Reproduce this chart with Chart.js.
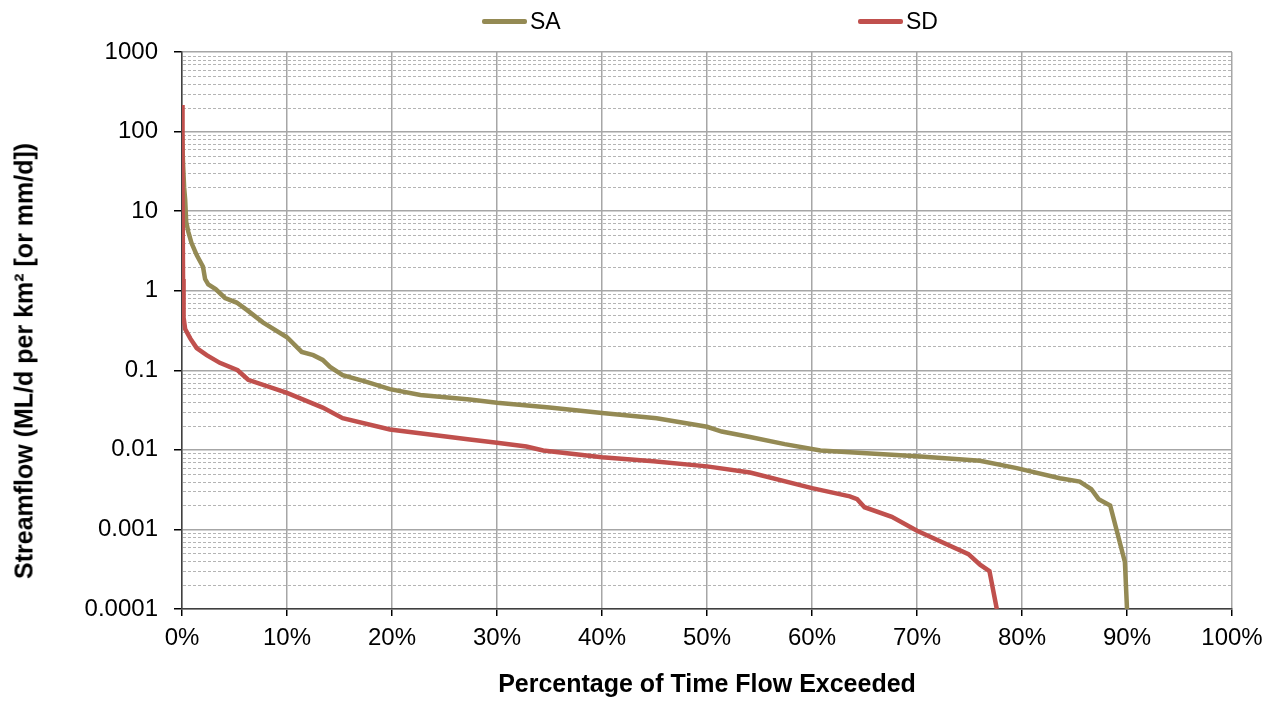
<!DOCTYPE html>
<html>
<head>
<meta charset="utf-8">
<script src="https://cdn.jsdelivr.net/npm/chart.js@4.4.1/dist/chart.umd.min.js"></script>
<style>
  body { margin: 0; background: #fff; font-family: "Liberation Sans", Arial, sans-serif; }
  #wrap { position: relative; width: 1274px; height: 702px; }
  .leg { position: absolute; top: 8px; display: flex; align-items: center; font-size: 23px; color: #000; }
  .leg span.sw { display: inline-block; width: 45px; height: 5px; border-radius: 2px; margin-right: 3px; }
  #ytitle { position: absolute; left: 24px; top: 361px; transform: translate(-50%, -50%) rotate(-90deg);
            white-space: nowrap; font-size: 25px; font-weight: bold; color: #000; }
</style>
</head>
<body>
<div id="wrap">
  <canvas id="fdc"></canvas>
  <div class="leg" style="left:482px"><span class="sw" style="background:#948A54"></span>SA</div>
  <div class="leg" style="left:858px"><span class="sw" style="background:#C0504D"></span>SD</div>
  <div id="ytitle">Streamflow (ML/d per km² [or mm/d])</div>
</div>
<script>
// percentage of time exceeded, streamflow
const saPct  = [0, 0.1, 0.2, 0.3, 0.4, 0.6, 0.9, 1.4, 2.0, 2.2, 2.5, 3.2, 4.1, 5.2, 6.2, 7.7, 10, 11.4, 12.5, 13.4, 14.1, 15.3, 17.5, 19.8, 22.7, 27.4, 30, 35, 40, 45.2, 50, 51.4, 54.1, 57.4, 60.8, 70, 76, 79.5, 83.6, 85.5, 86.6, 87.3, 88.4, 89.8, 90];
const saFlow = [90, 40, 20, 14, 7.3, 5.5, 4, 2.8, 2.0, 1.4, 1.2, 1.05, 0.81, 0.71, 0.57, 0.40, 0.26, 0.17, 0.155, 0.135, 0.11, 0.087, 0.072, 0.058, 0.049, 0.043, 0.039, 0.034, 0.029, 0.025, 0.0195, 0.017, 0.0145, 0.0118, 0.0098, 0.0083, 0.0073, 0.0059, 0.0044, 0.0040, 0.0032, 0.0024, 0.0020, 0.00039, 0.0001];

const sdPct  = [0, 0.05, 0.1, 0.15, 0.3, 0.8, 1.4, 2.35, 3.6, 5.3, 6.3, 10, 13.4, 15.3, 19.8, 27.4, 30, 32.8, 34.4, 40, 44.9, 50, 54.1, 60, 63.6, 64.3, 65, 67.6, 70, 74.9, 76, 76.9, 77.6];
const sdFlow = [215, 20, 1.4, 0.46, 0.33, 0.25, 0.19, 0.155, 0.124, 0.1, 0.076, 0.052, 0.034, 0.025, 0.018, 0.0135, 0.0123, 0.011, 0.0098, 0.0081, 0.0072, 0.0062, 0.0052, 0.0033, 0.0026, 0.0024, 0.0019, 0.00144, 0.00096, 0.00049, 0.00036, 0.0003, 0.0001];

const yTicks = [0.0001, 0.001, 0.01, 0.1, 1, 10, 100, 1000];
const yTickLabels = ['0.0001', '0.001', '0.01', '0.1', '1', '10', '100', '1000'];
const xTicks = [0, 10, 20, 30, 40, 50, 60, 70, 80, 90, 100];

const toPoints = (xs, ys) => xs.map((x, i) => ({ x: x, y: ys[i] }));

// dashed minor gridlines between the decades
const minorGrid = {
  id: 'minorGrid',
  beforeDatasetsDraw(chart) {
    const { ctx, chartArea } = chart;
    const y = chart.scales.y;
    ctx.save();
    ctx.strokeStyle = '#b4b4b4';
    ctx.lineWidth = 1;
    ctx.setLineDash([3, 2]);
    for (let e = -4; e < 3; e++) {
      for (let m = 2; m <= 9; m++) {
        const py = Math.round(y.getPixelForValue(m * Math.pow(10, e))) + 0.5;
        ctx.beginPath();
        ctx.moveTo(chartArea.left + 1, py);
        ctx.lineTo(chartArea.right, py);
        ctx.stroke();
      }
    }
    ctx.restore();
  }
};

const font = { family: '"Liberation Sans", Arial, sans-serif', size: 24 };

new Chart(document.getElementById('fdc'), {
  type: 'line',
  data: {
    datasets: [
      { label: 'SA', data: toPoints(saPct, saFlow), borderColor: '#948A54', borderWidth: 4.5, pointRadius: 0, tension: 0, order: 2 },
      { label: 'SD', data: toPoints(sdPct, sdFlow), borderColor: '#C0504D', borderWidth: 4.5, pointRadius: 0, tension: 0, order: 1 }
    ]
  },
  options: {
    responsive: true,
    maintainAspectRatio: false,
    animation: false,
    layout: { padding: { top: 52, right: 42, left: 0, bottom: 0 } },
    plugins: { legend: { display: false }, tooltip: { enabled: false } },
    scales: {
      x: {
        type: 'linear', min: 0, max: 100,
        afterBuildTicks: s => { s.ticks = xTicks.map(v => ({ value: v })); },
        afterFit: s => { s.height = 93; },
        ticks: { font: font, color: '#000', padding: 8, callback: v => v + '%' },
        grid: { color: '#a6a6a6', lineWidth: 1.5, tickColor: '#000', tickLength: 7 },
        border: { color: '#404040', width: 1.5 },
        title: { display: true, text: 'Percentage of Time Flow Exceeded', color: '#000',
                 font: { family: font.family, size: 25, weight: 'bold' }, padding: { top: 0, bottom: 2 } }
      },
      y: {
        type: 'logarithmic', min: 0.0001, max: 1000,
        afterBuildTicks: s => { s.ticks = yTicks.map(v => ({ value: v })); },
        afterFit: s => { s.width = 182; },
        ticks: { font: font, color: '#000', padding: 16, callback: (v, i) => yTickLabels[i] },
        grid: { color: '#a6a6a6', lineWidth: 1.5, tickColor: '#000', tickLength: 8 },
        border: { color: '#404040', width: 1.5 }
      }
    }
  },
  plugins: [minorGrid]
});
</script>
</body>
</html>
